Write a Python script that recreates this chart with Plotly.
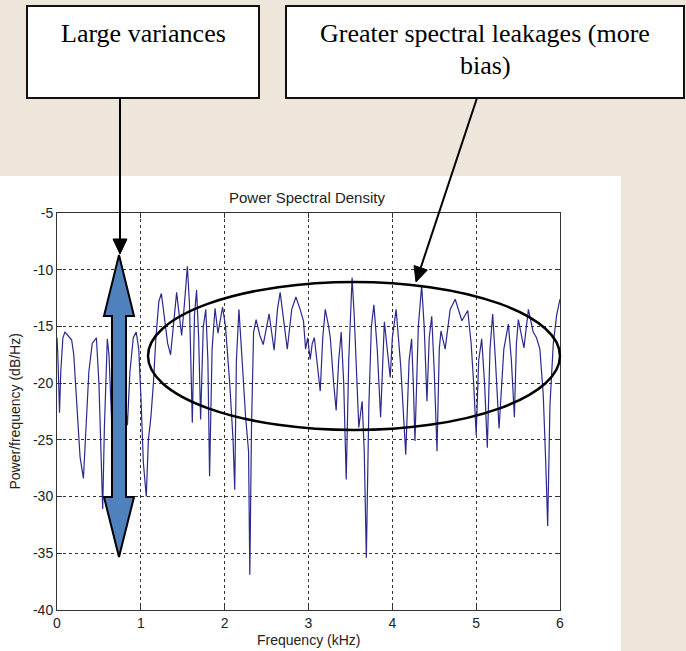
import math
import plotly.graph_objects as go

# ---------------- data ----------------
freq_khz = [
    0.000, 0.010, 0.030, 0.045, 0.070, 0.095, 0.130, 0.175, 0.200, 0.240,
    0.275, 0.315, 0.345, 0.380, 0.420, 0.470, 0.500, 0.530, 0.545, 0.565,
    0.590, 0.600, 0.620, 0.650, 0.700, 0.750, 0.800, 0.840, 0.870, 0.910,
    0.945, 0.975, 1.000, 1.030, 1.065, 1.090, 1.120, 1.150, 1.180, 1.215,
    1.245, 1.280, 1.320, 1.355, 1.390, 1.427, 1.450, 1.487, 1.520, 1.555,
    1.580, 1.614, 1.640, 1.665, 1.690, 1.713, 1.745, 1.775, 1.800, 1.820,
    1.850, 1.885, 1.920, 1.975, 2.010, 2.060, 2.100, 2.120, 2.140, 2.170,
    2.200, 2.250, 2.285, 2.300, 2.320, 2.345, 2.375, 2.420, 2.460, 2.500,
    2.530, 2.590, 2.630, 2.662, 2.700, 2.747, 2.800, 2.850, 2.900, 2.940,
    2.965, 2.990, 3.020, 3.045, 3.070, 3.100, 3.140, 3.170, 3.200, 3.240,
    3.260, 3.300, 3.330, 3.360, 3.390, 3.420, 3.450, 3.480, 3.510, 3.520,
    3.545, 3.575, 3.600, 3.640, 3.665, 3.690, 3.720, 3.750, 3.780, 3.820,
    3.860, 3.905, 3.940, 3.975, 4.000, 4.045, 4.100, 4.140, 4.160, 4.200,
    4.230, 4.250, 4.270, 4.310, 4.350, 4.380, 4.413, 4.440, 4.470, 4.500,
    4.533, 4.560, 4.580, 4.630, 4.690, 4.750, 4.790, 4.830, 4.900, 4.940,
    4.970, 5.000, 5.030, 5.066, 5.100, 5.133, 5.165, 5.197, 5.230, 5.273,
    5.330, 5.384, 5.420, 5.456, 5.480, 5.503, 5.570, 5.623, 5.680, 5.720,
    5.760, 5.800, 5.830, 5.853, 5.880, 5.920, 5.960, 6.000,
]
psd_db = [
    -16.0, -17.5, -22.6, -19.0, -16.0, -15.5, -15.8, -16.2, -17.5, -22.0,
    -26.5, -28.4, -24.0, -19.0, -16.5, -16.0, -20.0, -27.0, -31.1, -24.0,
    -17.0, -16.1, -17.5, -23.0, -27.0, -22.0, -20.5, -23.7, -19.0, -16.0,
    -15.5, -17.0, -21.0, -27.0, -30.0, -25.0, -23.0, -20.0, -16.0, -12.8,
    -12.1, -14.0, -16.5, -17.5, -14.5, -12.0, -13.5, -15.8, -13.0, -9.7,
    -13.0, -23.5, -14.0, -11.8, -16.0, -23.2, -15.0, -13.5, -18.0, -28.2,
    -17.0, -13.4, -15.6, -13.3, -15.0, -20.0, -25.0, -29.4, -18.0, -13.5,
    -17.0, -23.0, -26.0, -36.9, -24.0, -15.5, -14.4, -15.8, -16.6, -15.0,
    -13.9, -17.1, -13.5, -12.0, -14.5, -17.0, -13.5, -12.4, -13.5, -14.5,
    -17.0, -16.0, -17.9, -16.5, -16.0, -18.0, -20.7, -16.0, -13.5, -15.0,
    -16.0, -20.0, -22.4, -18.0, -15.5, -20.0, -28.5, -18.0, -11.5, -10.7,
    -14.0, -20.0, -23.9, -21.6, -26.0, -35.4, -22.0, -15.0, -13.1, -17.0,
    -23.0, -14.6, -17.0, -19.5, -16.0, -13.5, -18.5, -24.0, -26.3, -18.0,
    -16.1, -20.0, -25.1, -15.0, -11.4, -15.0, -21.6, -16.0, -14.1, -19.0,
    -26.0, -17.0, -15.4, -17.0, -13.5, -12.6, -13.5, -14.5, -13.6, -16.5,
    -20.0, -24.6, -18.0, -16.1, -20.0, -25.7, -17.0, -13.9, -18.0, -24.0,
    -17.0, -14.8, -18.0, -23.0, -16.5, -14.4, -16.9, -13.5, -15.5, -16.0,
    -17.0, -21.0, -27.0, -32.6, -22.0, -16.5, -14.0, -12.6,
]
x_ticks = [0, 1, 2, 3, 4, 5, 6]
y_ticks = [-40, -35, -30, -25, -20, -15, -10, -5]

title_text = "Power Spectral Density"
x_title = "Frequency (kHz)"
y_title = "Power/frequency (dB/Hz)"
box1_text = "Large variances"
box2_line1 = "Greater spectral leakages (more"
box2_line2 = "bias)"

# ---------------- layout geometry (pixels) ----------------
W, H = 686, 651
L, R, T, B = 57, 560, 213, 610  # plot area in pixels


def PX(x):
    return (x - L) / (R - L)


def PY(y):
    return (B - y) / (B - T)


fig = go.Figure()
fig.add_trace(go.Scatter(
    x=freq_khz, y=psd_db, mode="lines",
    line=dict(color="#2a2a8c", width=1.2),
    hoverinfo="skip", showlegend=False,
))

shapes = []
# white MATLAB figure panel
shapes.append(dict(type="rect", xref="paper", yref="paper", layer="below",
                   x0=PX(0), x1=PX(621), y0=PY(651), y1=PY(176),
                   fillcolor="white", line=dict(width=0)))
# text boxes
for (x0, x1) in [(27, 259), (286, 684)]:
    shapes.append(dict(type="rect", xref="paper", yref="paper", layer="above",
                       x0=PX(x0), x1=PX(x1), y0=PY(98), y1=PY(6),
                       fillcolor="white", line=dict(color="#111", width=2)))

# ellipse
shapes.append(dict(type="circle", xref="paper", yref="paper", layer="above",
                   x0=PX(148), x1=PX(560), y0=PY(430), y1=PY(282),
                   line=dict(color="black", width=2.5)))


def poly(points):
    return "M " + " L ".join(f"{PX(a):.5f},{PY(b):.5f}" for a, b in points) + " Z"


# double headed blue arrow
cx = 119
dbl = [(cx, 255), (cx + 15, 316), (cx + 7, 316), (cx + 7, 497), (cx + 15, 497),
       (cx, 557), (cx - 15, 497), (cx - 7, 497), (cx - 7, 316), (cx - 15, 316)]
shapes.append(dict(type="path", xref="paper", yref="paper", layer="above",
                   path=poly(dbl), fillcolor="#4f81bd",
                   line=dict(color="black", width=2)))


def arrow(tail, tip, head_len=15, half_w=7):
    dx, dy = tip[0] - tail[0], tip[1] - tail[1]
    n = math.hypot(dx, dy)
    ux, uy = dx / n, dy / n
    bx, by = tip[0] - head_len * ux, tip[1] - head_len * uy
    px_, py_ = -uy, ux
    out = [dict(type="line", xref="paper", yref="paper", layer="above",
                x0=PX(tail[0]), y0=PY(tail[1]), x1=PX(bx), y1=PY(by),
                line=dict(color="black", width=2))]
    tri = [tip, (bx + half_w * px_, by + half_w * py_), (bx - half_w * px_, by - half_w * py_)]
    out.append(dict(type="path", xref="paper", yref="paper", layer="above",
                    path=poly(tri), fillcolor="black", line=dict(color="black", width=1)))
    return out


shapes += arrow((120, 98), (120, 254))
shapes += arrow((477, 98), (416, 282))

annotations = [
    dict(text=title_text, x=PX(307), y=PY(197), xref="paper", yref="paper",
         showarrow=False, xanchor="center", yanchor="middle",
         font=dict(family="Liberation Sans, Arial", size=15, color="#222")),
    dict(text=x_title, x=PX(308.5), y=PY(640), xref="paper", yref="paper",
         showarrow=False, xanchor="center", yanchor="middle",
         font=dict(family="Liberation Sans, Arial", size=14, color="#222")),
    dict(text=y_title, x=PX(14), y=PY(411.5), xref="paper", yref="paper",
         showarrow=False, xanchor="center", yanchor="middle", textangle=-90,
         font=dict(family="Liberation Sans, Arial", size=14, color="#222")),
    dict(text=box1_text, x=PX(143), y=PY(33), xref="paper", yref="paper",
         showarrow=False, xanchor="center", yanchor="middle",
         font=dict(family="Liberation Serif, Times New Roman", size=26, color="black")),
    dict(text=box2_line1, x=PX(485), y=PY(33), xref="paper", yref="paper",
         showarrow=False, xanchor="center", yanchor="middle",
         font=dict(family="Liberation Serif, Times New Roman", size=26, color="black")),
    dict(text=box2_line2, x=PX(485), y=PY(66), xref="paper", yref="paper",
         showarrow=False, xanchor="center", yanchor="middle",
         font=dict(family="Liberation Serif, Times New Roman", size=26, color="black")),
]

axis_common = dict(
    showgrid=True, gridcolor="#333", griddash="dot", gridwidth=1,
    zeroline=False, showline=True, linecolor="#333", linewidth=1,
    mirror="ticks", ticks="inside", ticklen=5, tickcolor="#333",
    tickfont=dict(family="Liberation Sans, Arial", size=14, color="#222"),
)

fig.update_layout(
    width=W, height=H,
    margin=dict(l=L, r=W - R, t=T, b=H - B, pad=0),
    paper_bgcolor="#eee5db", plot_bgcolor="white",
    xaxis=dict(range=[0, 6], tickvals=x_ticks, ticktext=[str(v) for v in x_ticks],
               **axis_common),
    yaxis=dict(range=[-40, -5], tickvals=y_ticks, ticktext=[str(v) for v in y_ticks],
               **axis_common),
    shapes=shapes, annotations=annotations,
    showlegend=False,
)

fig.write_html(
    "out.html",
    config={"displayModeBar": False},
    post_script="document.body.style.margin='0';document.body.style.overflow='hidden';",
)
